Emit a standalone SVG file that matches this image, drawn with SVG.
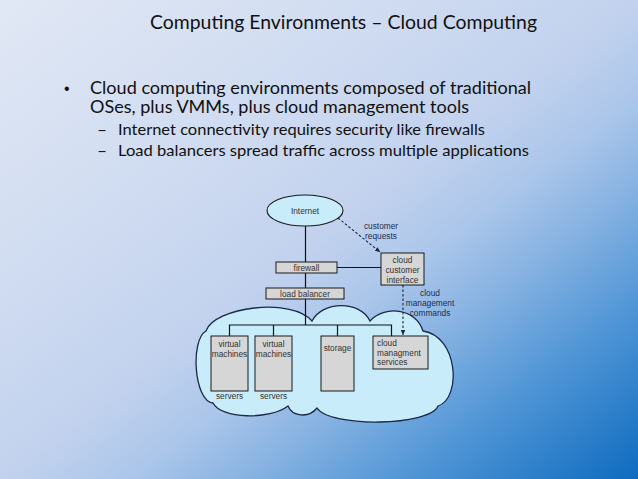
<svg xmlns="http://www.w3.org/2000/svg" width="638" height="479" viewBox="0 0 638 479">
<defs>
<linearGradient id="bg" x1="0" y1="0" x2="1" y2="1">
<stop offset="0" stop-color="#e1e8f5"/>
<stop offset="0.3" stop-color="#d0dcf1"/>
<stop offset="0.5" stop-color="#c2d2ee"/>
<stop offset="0.6" stop-color="#abc6ea"/>
<stop offset="0.69" stop-color="#88b3e2"/>
<stop offset="0.82" stop-color="#4f95d6"/>
<stop offset="1" stop-color="#0e6bbf"/>
</linearGradient>
<marker id="arr" viewBox="0 0 10 10" refX="9" refY="5" markerWidth="5" markerHeight="5" orient="auto">
<path d="M0,1 L10,5 L0,9 Z" fill="#1a2540"/>
</marker>
<style>
.title{font-family:Lato,"Open Sans","Liberation Sans",sans-serif;font-size:19px;fill:#111;}
.b1{font-family:Lato,"Open Sans","Liberation Sans",sans-serif;font-size:16.5px;fill:#111;}
.b2{font-family:Lato,"Open Sans","Liberation Sans",sans-serif;font-size:15px;fill:#111;}
.dot{font-family:"Liberation Sans",Arial,sans-serif;font-size:16px;fill:#111;}
.lbl{font-family:"Liberation Sans",Arial,sans-serif;font-size:8.3px;fill:#333;text-anchor:middle;}
.lbll{font-family:"Liberation Sans",Arial,sans-serif;font-size:8.3px;fill:#333;}
.note{font-family:"Liberation Sans",Arial,sans-serif;font-size:8.3px;fill:#1c2c4c;text-anchor:middle;}
.box{fill:#d6d6d6;stroke:#1a1a1a;stroke-width:1;}
.ln{stroke:#111;stroke-width:1.2;fill:none;}
.dash{stroke:#1a2540;stroke-width:1.1;fill:none;stroke-dasharray:2.5,2;}
</style>
</defs>
<rect x="0" y="0" width="638" height="479" fill="url(#bg)"/>

<text class="title" x="150" y="29" textLength="387" lengthAdjust="spacingAndGlyphs">Computing Environments – Cloud Computing</text>
<text class="dot" x="64" y="94">•</text>
<text class="b1" x="90" y="94" textLength="441" lengthAdjust="spacingAndGlyphs">Cloud computing environments composed of traditional</text>
<text class="b1" x="90" y="112.5" textLength="379" lengthAdjust="spacingAndGlyphs">OSes, plus VMMs, plus cloud management tools</text>
<text class="b2" x="97" y="135" textLength="10" lengthAdjust="spacingAndGlyphs">–</text>
<text class="b2" x="118" y="135" textLength="367" lengthAdjust="spacingAndGlyphs">Internet connectivity requires security like firewalls</text>
<text class="b2" x="97" y="156" textLength="10" lengthAdjust="spacingAndGlyphs">–</text>
<text class="b2" x="118" y="156" textLength="411" lengthAdjust="spacingAndGlyphs">Load balancers spread traffic across multiple applications</text>

<g id="cloud">
<path d="M206,331 C214,307 292,297 312,321 C322,301 360,300 370,321 C384,305 416,308 423,331 C458,336 462,398 438,406 C430,426 330,428 317,408 C308,419 292,416 288,406 C270,420 221,419 213,403 C194,401 190,340 206,331 Z" fill="#c9ecfb" stroke="#1b2848" stroke-width="1.3"/>
</g>

<g id="connectors">
<line class="ln" x1="305.5" y1="226" x2="305.5" y2="262"/>
<line class="ln" x1="305.5" y1="273" x2="305.5" y2="288"/>
<line class="ln" x1="337" y1="267.5" x2="381" y2="267.5"/>
<line class="ln" x1="305.5" y1="299" x2="305.5" y2="325"/>
<polyline class="ln" points="229.5,336 229.5,325 391.5,325 391.5,336"/>
<line class="ln" x1="273.5" y1="325" x2="273.5" y2="336"/>
<line class="ln" x1="337.5" y1="325" x2="337.5" y2="336"/>
<line class="dash" x1="338" y1="218" x2="380" y2="252" marker-end="url(#arr)"/>
<line class="dash" x1="403" y1="285" x2="403" y2="335" marker-end="url(#arr)"/>
</g>
<text class="note" x="381" y="229">customer</text>
<text class="note" x="381" y="239">requests</text>
<text class="note" x="430" y="296">cloud</text>
<text class="note" x="430" y="306">management</text>
<text class="note" x="430" y="316">commands</text>

<g id="internet">
<ellipse cx="305" cy="210.5" rx="38" ry="15.5" fill="#c9ecfb" stroke="#1a1a1a" stroke-width="1.1"/>
<text class="lbl" x="305" y="213.5">Internet</text>
</g>
<g id="firewall">
<rect class="box" x="276" y="262" width="61" height="11"/>
<text class="lbl" x="306.5" y="270.5">firewall</text>
</g>
<g id="load-balancer">
<rect class="box" x="266" y="288" width="78" height="11"/>
<text class="lbl" x="305" y="296.5">load balancer</text>
</g>
<g id="cloud-customer-interface">
<rect class="box" x="381" y="253" width="43" height="32"/>
<text class="lbl" x="402.5" y="263">cloud</text>
<text class="lbl" x="402.5" y="273">customer</text>
<text class="lbl" x="402.5" y="282.5">interface</text>
</g>
<g id="vm1">
<rect class="box" x="211" y="336" width="37" height="55"/>
<text class="lbl" x="229.5" y="347">virtual</text>
<text class="lbl" x="229.5" y="357">machines</text>
<text class="lbl" x="229.5" y="399">servers</text>
</g>
<g id="vm2">
<rect class="box" x="255" y="336" width="37" height="55"/>
<text class="lbl" x="273.5" y="347">virtual</text>
<text class="lbl" x="273.5" y="357">machines</text>
<text class="lbl" x="273.5" y="399">servers</text>
</g>
<g id="storage">
<rect class="box" x="321" y="336" width="33" height="55"/>
<text class="lbl" x="337.5" y="350.5">storage</text>
</g>
<g id="cloud-management-services">
<rect class="box" x="373" y="336" width="55" height="33"/>
<text class="lbll" x="377" y="345.5">cloud</text>
<text class="lbll" x="377" y="355.5">managment</text>
<text class="lbll" x="377" y="365">services</text>
</g>
</svg>
